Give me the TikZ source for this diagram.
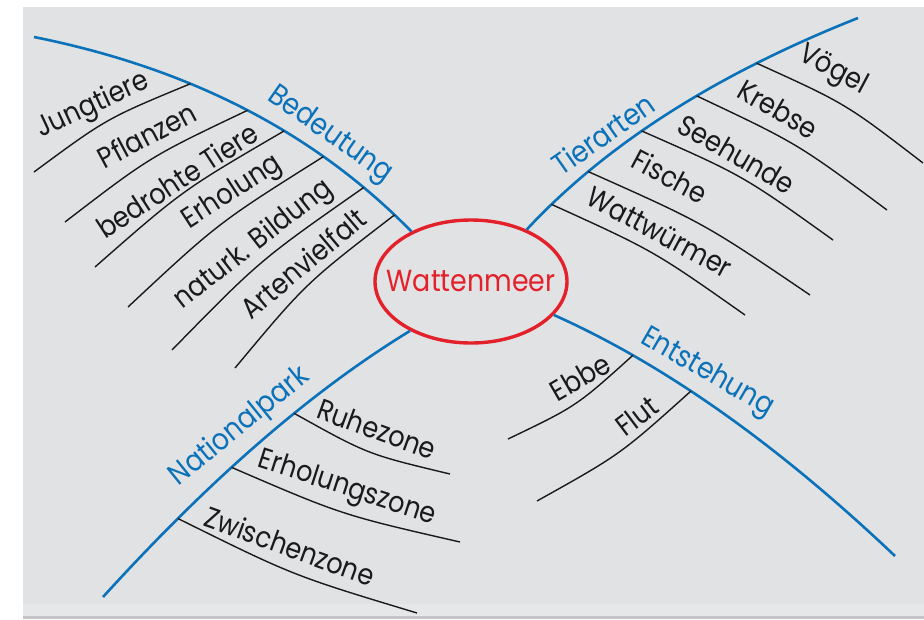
\documentclass[tikz,border=0pt]{standalone}
\usepackage{fontspec}
\setmainfont{Poppins}
\newfontfamily\hand[FakeStretch=0.88]{Poppins}
\usetikzlibrary{shapes.geometric}
\definecolor{bg}{HTML}{E1E2E4}
\definecolor{bgl}{HTML}{E6E7E8}
\definecolor{bgd}{HTML}{C4C5C9}
\definecolor{mblue}{HTML}{0B72B9}
\definecolor{mred}{HTML}{E3212B}
\definecolor{ink}{HTML}{1A1A1A}
\begin{document}
\begin{tikzpicture}[x=1pt,y=-1pt,
  branch/.style={draw=mblue,line width=2.6pt},
  twig/.style={draw=ink,line width=1.4pt},
  lbl/.style={font=\hand\fontsize{29}{29}\selectfont,text=ink,inner sep=0pt},
  blbl/.style={font=\hand\fontsize{30}{30}\selectfont,text=mblue,inner sep=0pt},
  centre/.style={ellipse,draw=mred,line width=3.4pt,minimum width=192pt,minimum height=123pt,inner sep=0pt,text=mred,font=\hand\fontsize{30.5}{30.5}\selectfont}
]
\useasboundingbox (0,0) rectangle (924,619);
\fill[white] (0,0) rectangle (924,619);
\fill[bgd] (23,616) rectangle (924,619);
\fill[bgl] (23,7) rectangle (924,616);
\fill[bg] (23,7) rectangle (924,604);

\node[centre] (W) at (471,281.5) {\makebox[0pt]{Wattenmeer}};

% free ends of the main branches
\coordinate (bedEnd) at (34,37);
\coordinate (tierEnd) at (858,18);
\coordinate (natEnd) at (103,597);
\coordinate (entEnd) at (895,556);

% main branches
\draw[branch] (bedEnd) .. controls (190,68.3) and (314.7,132.7) .. (W.140)
  coordinate[pos=0.36] (b1) coordinate[pos=0.507] (b2) coordinate[pos=0.607] (b3)
  coordinate[pos=0.72] (b4) coordinate[pos=0.843] (b5) coordinate[pos=0.943] (b6);
\draw[branch] (W.43) .. controls (606.3,144) and (716.7,74) .. (tierEnd)
  coordinate[pos=0.10] (t5) coordinate[pos=0.236] (t4) coordinate[pos=0.415] (t3)
  coordinate[pos=0.581] (t2) coordinate[pos=0.747] (t1);
\draw[branch] (W.219) .. controls (310.3,391.7) and (209.7,479.7) .. (natEnd)
  coordinate[pos=0.385] (n1) coordinate[pos=0.59] (n2) coordinate[pos=0.763] (n3);
\draw[branch] (W.338) .. controls (664.3,364.3) and (777.7,444.7) .. (entEnd)
  coordinate[pos=0.237] (e1) coordinate[pos=0.409] (e2);

% free ends of the twigs
\coordinate (bE1) at (34,172);
\coordinate (bE2) at (65,222);
\coordinate (bE3) at (95,267);
\coordinate (bE4) at (128,307);
\coordinate (bE5) at (172,350);
\coordinate (bE6) at (235,368);
\coordinate (tE1) at (923,163);
\coordinate (tE2) at (887,210);
\coordinate (tE3) at (833,240);
\coordinate (tE4) at (810,295);
\coordinate (tE5) at (745,315);
\coordinate (nE1) at (450,474);
\coordinate (nE2) at (460,542);
\coordinate (nE3) at (417,613);
\coordinate (eE1) at (508,439);
\coordinate (eE2) at (537,501);

% twigs
\draw[twig] (b1) .. controls (106.6,118.4) .. (bE1);
\draw[twig] (b2) .. controls (150.2,156.6) .. (bE2);
\draw[twig] (b3) .. controls (182.6,190.1) .. (bE3);
\draw[twig] (b4) .. controls (218.2,222.8) .. (bE4);
\draw[twig] (b5) .. controls (259.8,260.2) .. (bE5);
\draw[twig] (b6) .. controls (305.8,283.1) .. (bE6);
\draw[twig] (t1) .. controls (845.7,103.6) .. (tE1);
\draw[twig] (t2) .. controls (797.7,143.6) .. (tE2);
\draw[twig] (t3) .. controls (743,175.5) .. (tE3);
\draw[twig] (t4) .. controls (704.4,223.4) .. (tE4);
\draw[twig] (t5) .. controls (653.9,250.9) .. (tE5);
\draw[twig] (n1) .. controls (367.6,454.3) .. (nE1);
\draw[twig] (n2) .. controls (342.1,515) .. (nE2);
\draw[twig] (n3) .. controls (293.4,575.7) .. (nE3);
\draw[twig] (e1) .. controls (576.6,406.1) .. (eE1);
\draw[twig] (e2) .. controls (620.4,454.4) .. (eE2);

% branch labels
\node[blbl,rotate=-35] (lBed) at (330,135) {Bedeutung};
\node[blbl,rotate=35] (lTier) at (603,134) {Tierarten};
\node[blbl,rotate=39] (lNat) at (240,427) {Nationalpark};
\node[blbl,rotate=-30] (lEnt) at (707,373) {Entstehung};

% twig labels
\node[lbl,rotate=25] (x1) at (93,106) {Jungtiere};
\node[lbl,rotate=28] (x2) at (147,135) {Pflanzen};
\node[lbl,rotate=33] (x3) at (177,180) {bedrohte Tiere};
\node[lbl,rotate=33] (x4) at (233,193) {Erholung};
\node[lbl,rotate=38] (x5) at (254,245) {naturk. Bildung};
\node[lbl,rotate=40] (x6) at (303,263) {Artenvielfalt};
\node[lbl,rotate=-28] (y1) at (833,71) {Vögel};
\node[lbl,rotate=-30] (y2) at (778,109) {Krebse};
\node[lbl,rotate=-30] (y3) at (737,154) {Seehunde};
\node[lbl,rotate=-28] (y4) at (670,176) {Fische};
\node[lbl,rotate=-28] (y5) at (660,232) {Wattwürmer};
\node[lbl,rotate=-20] (z1) at (377,429) {Ruhezone};
\node[lbl,rotate=-18] (z2) at (347,489) {Erholungszone};
\node[lbl,rotate=-20] (z3) at (290,546) {Zwischenzone};
\node[lbl,rotate=30] (w1) at (580,377) {Ebbe};
\node[lbl,rotate=37] (w2) at (637,416) {Flut};
\end{tikzpicture}
\end{document}
